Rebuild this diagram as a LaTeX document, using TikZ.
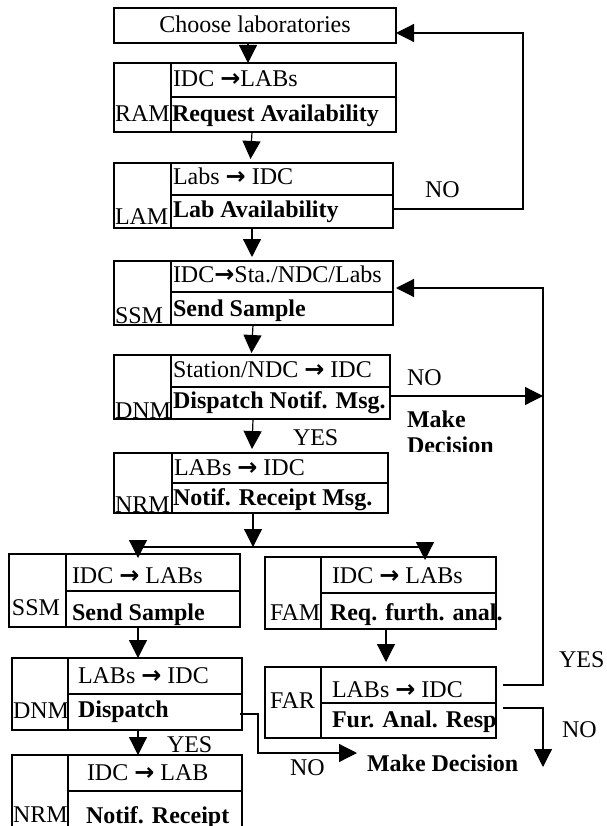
\documentclass[tikz,border=0pt]{standalone}
\usepackage{fontspec}
\setmainfont{Liberation Serif}
\newfontfamily\arrfont{DejaVu Sans}
\newcommand\rar{{\arrfont\bfseries\char"2192}}
\usetikzlibrary{arrows.meta}
\tikzset{
  box/.style={draw, line width=1.3pt, anchor=north west, inner sep=0pt, outer sep=0pt},
  ln/.style={line width=1.2pt},
  arr/.style={line width=1.2pt, -{Triangle[length=18pt,width=18pt]}},
  txt/.style={anchor=base west, inner sep=0pt, outer sep=0pt, font=\fontsize{24}{28}\selectfont},
  btxt/.style={txt, font=\fontsize{24}{28}\selectfont\bfseries},
}
% name, x, y, width, height, label width, upper row height
\newcommand\msgbox[7]{%
  \node[box, minimum width=#4pt, minimum height=#5pt] (#1) at (#2,#3) {};
  \draw[line width=1.3pt] ([xshift=#6pt]#1.north west) -- ([xshift=#6pt]#1.south west);
  \draw[line width=1.3pt] ([xshift=#6pt,yshift=-#7pt]#1.north west) -- ([yshift=-#7pt]#1.north east);
}
\begin{document}
\begin{tikzpicture}[x=1pt,y=-1pt]
\clip (0,0) rectangle (606,826);
\fill[white] (0,0) rectangle (606,826);

% top box
\node[box, minimum width=282pt, minimum height=35pt] (choose) at (114,8) {};
\node[txt, anchor=base] (chooseT) at (255,33) {Choose laboratories};

% main column
\msgbox{ram}{114}{63}{282}{69}{57}{34}
\node[txt]  (ramA) at (173,87)  {IDC \rar LABs};
\node[btxt] (ramB) at (172,122) {Request Availability};
\node[txt]  (ramL) at (115,122) {RAM};

\msgbox{lam}{114}{163}{279}{65}{57}{32}
\node[txt]  (lamA) at (173,185) {Labs \rar{} IDC};
\node[btxt] (lamB) at (173,218) {Lab Availability};
\node[txt]  (lamL) at (115,225) {LAM};

\msgbox{ssm}{114}{261}{279}{64}{57}{31}
\node[txt]  (ssmA) at (173,282) {IDC\rar Sta./NDC/Labs};
\node[btxt] (ssmB) at (173,316) {Send Sample};
\node[txt]  (ssmL) at (115,323) {SSM};

\msgbox{dnm}{114}{355}{276}{64}{57}{32}
\node[txt]  (dnmA) at (173,377) {Station/NDC \rar{} IDC};
\node[btxt] (dnmB) at (173,408) {Dispatch Notif. Msg.};
\node[txt]  (dnmL) at (115,418) {DNM};

\msgbox{nrm}{114}{453}{274}{60}{58}{30}
\node[txt]  (nrmA) at (174,475) {LABs \rar{} IDC};
\node[btxt] (nrmB) at (173,505) {Notif. Receipt Msg.};
\node[txt]  (nrmL) at (115,512) {NRM};

% left column
\msgbox{ssmb}{9}{554}{231}{73}{57}{37}
\node[txt]  (ssmbA) at (72,583) {IDC \rar{} LABs};
\node[btxt] (ssmbB) at (72,620) {Send Sample};
\node[txt]  (ssmbL) at (12,615) {SSM};

\msgbox{dnmb}{12}{658}{230}{72}{56}{36}
\node[txt]  (dnmbA) at (78,683) {LABs \rar{} IDC};
\node[btxt] (dnmbB) at (78,717) {Dispatch};
\node[txt]  (dnmbL) at (13,718) {DNM};

\msgbox{nrmb}{12}{755}{230}{90}{56}{36}
\node[txt]  (nrmbA) at (87,780) {IDC \rar{} LAB};
\node[btxt] (nrmbB) at (86,823) {Notif. Receipt};
\node[txt]  (nrmbL) at (13,822) {NRM};

% right column
\msgbox{fam}{265}{557}{231}{72}{56}{36}
\node[txt]  (famA) at (332,583) {IDC \rar{} LABs};
\node[btxt] (famB) at (330,620) {Req. furth. anal.};
\node[txt]  (famL) at (270,620) {FAM};

\msgbox{far}{265}{667}{231}{71}{56}{36}
\node[txt]  (farA) at (332,697) {LABs \rar{} IDC};
\node[btxt] (farB) at (332,727) {Fur. Anal. Resp};
\node[txt]  (farL) at (270,708) {FAR};

% coordinates
\coordinate (nc) at (523,33);
\coordinate (vr) at (543,288);
\coordinate (fn) at (543,767);
\coordinate (sl) at (138,547);
\coordinate (sr) at (425,547);
\coordinate (dk) at (258,753);
\coordinate (mde) at (357,753);

% main flow arrows
\draw[arr] ([xshift=-7pt]choose.south) -- ([xshift=-7pt]ram.north);
\draw[arr] ([xshift=-3pt]ram.south) -- ([xshift=-3pt,yshift=4pt]lam.north);
\draw[arr] ([xshift=-1.5pt]lam.south) -- ([xshift=-1.5pt,yshift=4pt]ssm.north);
\draw[arr] ([xshift=-0.5pt]ssm.south) -- ([xshift=-0.5pt,yshift=2pt]dnm.north);
\draw[arr] ([xshift=1pt]dnm.south) -- ([xshift=1pt,yshift=4pt]nrm.north);

% NO loop back to choose
\draw[arr] ([yshift=-13.5pt]lam.east) -| (nc) -- ([yshift=-7.5pt]choose.east);

% split
\draw[arr] ([xshift=2pt]nrm.south) -- ([xshift=2pt]nrm.south |- sl);
\draw[ln] (sl) -- (sr);
\draw[arr] (sl) -- ([yshift=-4pt]sl |- ssmb.north);
\draw[arr] (sr) -- ([yshift=-3pt]sr |- fam.north);

% left column arrows
\draw[arr] (sl |- ssmb.south) -- (sl |- dnmb.north);
\draw[arr] (sl |- dnmb.south) -- (sl |- nrmb.north);
\draw[arr] ([xshift=-2pt,yshift=-20pt]dnmb.east) -| (dk) -- (mde);

% right column arrows
\draw[arr] ([xshift=5.5pt]fam.south) -- ([xshift=5.5pt,yshift=5pt]far.north);
\draw[arr] ([xshift=7pt,yshift=17.5pt]far.east) -| (vr) -- ([xshift=3pt,yshift=5pt]ssm.east);
\draw[arr] ([yshift=-9pt]dnm.east) -- ([yshift=-9pt]dnm.east -| vr);
\draw[arr] ([xshift=7pt,yshift=-5.5pt]far.east) -| (fn);

% labels
\node[txt] (no1) at (425,198) {NO};
\node[txt] (no2) at (407,385) {NO};
\begin{scope}
  \clip (400,400) rectangle (520,451);
  \node[btxt] (md1a) at (407,427) {Make};
  \node[btxt] (md1b) at (407,453) {Decision};
\end{scope}
\node[txt] (yes1) at (293,445) {YES};
\node[txt] (yes2) at (559,667) {YES};
\node[txt] (no3) at (562,737) {NO};
\node[txt] (yes3) at (167,752) {YES};
\node[txt] (no4) at (290,775) {NO};
\node[btxt] (md2) at (367,771) {Make Decision};
\end{tikzpicture}
\end{document}
